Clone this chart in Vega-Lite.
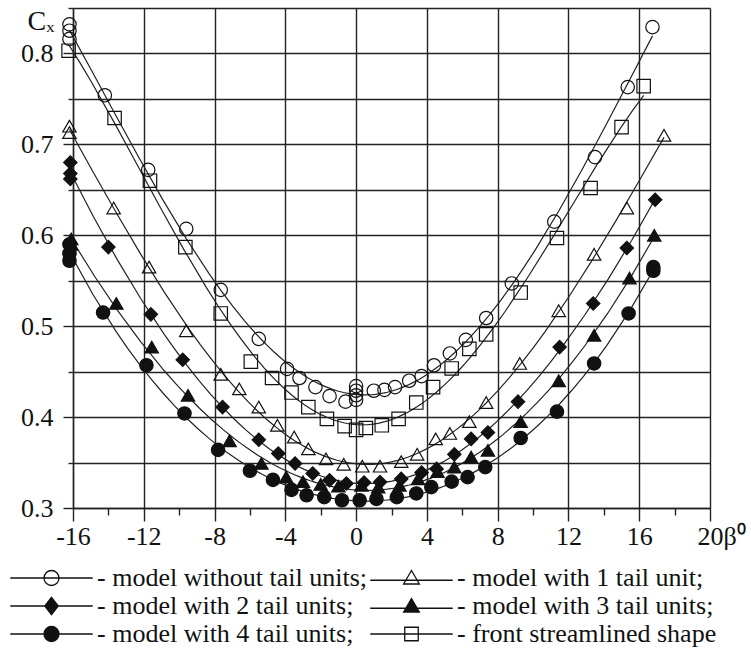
{
  "$schema": "https://vega.github.io/schema/vega-lite/v6.json",
  "width": 637,
  "height": 500,
  "autosize": "none",
  "padding": {"left": 73, "top": 8, "right": 41, "bottom": 143},
  "background": "white",
  "config": {"view": {"stroke": null}, "font": "Liberation Serif, Times New Roman, Tinos, serif"},
  "data": {"values": [
    {"s": "model without tail units", "b": -16.2, "c": 0.832},
    {"s": "model without tail units", "b": -16.2, "c": 0.825},
    {"s": "model without tail units", "b": -16.2, "c": 0.816},
    {"s": "model without tail units", "b": -14.2, "c": 0.754},
    {"s": "model without tail units", "b": -11.75, "c": 0.672},
    {"s": "model without tail units", "b": -9.6, "c": 0.607},
    {"s": "model without tail units", "b": -7.65, "c": 0.54},
    {"s": "model without tail units", "b": -5.5, "c": 0.486},
    {"s": "model without tail units", "b": -3.9, "c": 0.453},
    {"s": "model without tail units", "b": -3.2, "c": 0.443},
    {"s": "model without tail units", "b": -2.3, "c": 0.433},
    {"s": "model without tail units", "b": -1.5, "c": 0.423},
    {"s": "model without tail units", "b": -0.6, "c": 0.417},
    {"s": "model without tail units", "b": 0, "c": 0.434},
    {"s": "model without tail units", "b": 0, "c": 0.429},
    {"s": "model without tail units", "b": 0, "c": 0.424},
    {"s": "model without tail units", "b": 0, "c": 0.419},
    {"s": "model without tail units", "b": 1.0, "c": 0.429},
    {"s": "model without tail units", "b": 1.6, "c": 0.43},
    {"s": "model without tail units", "b": 2.2, "c": 0.433},
    {"s": "model without tail units", "b": 3.0, "c": 0.44},
    {"s": "model without tail units", "b": 3.7, "c": 0.445},
    {"s": "model without tail units", "b": 4.4, "c": 0.457},
    {"s": "model without tail units", "b": 5.3, "c": 0.47},
    {"s": "model without tail units", "b": 6.2, "c": 0.485},
    {"s": "model without tail units", "b": 7.35, "c": 0.509},
    {"s": "model without tail units", "b": 8.8, "c": 0.547},
    {"s": "model without tail units", "b": 11.2, "c": 0.615},
    {"s": "model without tail units", "b": 13.5, "c": 0.686},
    {"s": "model without tail units", "b": 15.35, "c": 0.763},
    {"s": "model without tail units", "b": 16.75, "c": 0.829},

    {"s": "model with 1 tail unit", "b": -16.2, "c": 0.72},
    {"s": "model with 1 tail unit", "b": -16.2, "c": 0.713},
    {"s": "model with 1 tail unit", "b": -13.7, "c": 0.63},
    {"s": "model with 1 tail unit", "b": -11.7, "c": 0.565},
    {"s": "model with 1 tail unit", "b": -9.6, "c": 0.495},
    {"s": "model with 1 tail unit", "b": -7.65, "c": 0.447},
    {"s": "model with 1 tail unit", "b": -6.6, "c": 0.431},
    {"s": "model with 1 tail unit", "b": -5.5, "c": 0.411},
    {"s": "model with 1 tail unit", "b": -4.45, "c": 0.391},
    {"s": "model with 1 tail unit", "b": -3.5, "c": 0.378},
    {"s": "model with 1 tail unit", "b": -2.7, "c": 0.365},
    {"s": "model with 1 tail unit", "b": -1.7, "c": 0.354},
    {"s": "model with 1 tail unit", "b": -0.7, "c": 0.348},
    {"s": "model with 1 tail unit", "b": 0.35, "c": 0.346},
    {"s": "model with 1 tail unit", "b": 1.35, "c": 0.346},
    {"s": "model with 1 tail unit", "b": 2.55, "c": 0.351},
    {"s": "model with 1 tail unit", "b": 3.45, "c": 0.359},
    {"s": "model with 1 tail unit", "b": 4.5, "c": 0.376},
    {"s": "model with 1 tail unit", "b": 5.3, "c": 0.382},
    {"s": "model with 1 tail unit", "b": 6.4, "c": 0.395},
    {"s": "model with 1 tail unit", "b": 7.35, "c": 0.416},
    {"s": "model with 1 tail unit", "b": 9.25, "c": 0.459},
    {"s": "model with 1 tail unit", "b": 11.45, "c": 0.517},
    {"s": "model with 1 tail unit", "b": 13.45, "c": 0.579},
    {"s": "model with 1 tail unit", "b": 15.3, "c": 0.63},
    {"s": "model with 1 tail unit", "b": 17.4, "c": 0.71},

    {"s": "model with 2 tail units", "b": -16.15, "c": 0.68},
    {"s": "model with 2 tail units", "b": -16.15, "c": 0.668},
    {"s": "model with 2 tail units", "b": -16.15, "c": 0.662},
    {"s": "model with 2 tail units", "b": -14.0, "c": 0.587},
    {"s": "model with 2 tail units", "b": -11.6, "c": 0.513},
    {"s": "model with 2 tail units", "b": -9.8, "c": 0.463},
    {"s": "model with 2 tail units", "b": -7.55, "c": 0.411},
    {"s": "model with 2 tail units", "b": -5.5, "c": 0.375},
    {"s": "model with 2 tail units", "b": -4.4, "c": 0.36},
    {"s": "model with 2 tail units", "b": -3.45, "c": 0.349},
    {"s": "model with 2 tail units", "b": -2.45, "c": 0.338},
    {"s": "model with 2 tail units", "b": -1.5, "c": 0.3305},
    {"s": "model with 2 tail units", "b": -0.55, "c": 0.327},
    {"s": "model with 2 tail units", "b": 0.45, "c": 0.328},
    {"s": "model with 2 tail units", "b": 1.35, "c": 0.3285},
    {"s": "model with 2 tail units", "b": 2.55, "c": 0.332},
    {"s": "model with 2 tail units", "b": 3.7, "c": 0.339},
    {"s": "model with 2 tail units", "b": 4.55, "c": 0.343},
    {"s": "model with 2 tail units", "b": 5.55, "c": 0.359},
    {"s": "model with 2 tail units", "b": 6.5, "c": 0.376},
    {"s": "model with 2 tail units", "b": 7.45, "c": 0.383},
    {"s": "model with 2 tail units", "b": 9.15, "c": 0.417},
    {"s": "model with 2 tail units", "b": 11.5, "c": 0.477},
    {"s": "model with 2 tail units", "b": 13.4, "c": 0.525},
    {"s": "model with 2 tail units", "b": 15.3, "c": 0.586},
    {"s": "model with 2 tail units", "b": 16.9, "c": 0.639},

    {"s": "model with 3 tail units", "b": -16.1, "c": 0.596},
    {"s": "model with 3 tail units", "b": -16.1, "c": 0.59},
    {"s": "model with 3 tail units", "b": -13.55, "c": 0.525},
    {"s": "model with 3 tail units", "b": -11.55, "c": 0.477},
    {"s": "model with 3 tail units", "b": -9.5, "c": 0.424},
    {"s": "model with 3 tail units", "b": -7.15, "c": 0.374},
    {"s": "model with 3 tail units", "b": -5.35, "c": 0.349},
    {"s": "model with 3 tail units", "b": -3.95, "c": 0.334},
    {"s": "model with 3 tail units", "b": -3.0, "c": 0.329},
    {"s": "model with 3 tail units", "b": -2.0, "c": 0.326},
    {"s": "model with 3 tail units", "b": -1.0, "c": 0.324},
    {"s": "model with 3 tail units", "b": 0.3, "c": 0.325},
    {"s": "model with 3 tail units", "b": 1.25, "c": 0.323},
    {"s": "model with 3 tail units", "b": 2.45, "c": 0.325},
    {"s": "model with 3 tail units", "b": 3.5, "c": 0.332},
    {"s": "model with 3 tail units", "b": 4.6, "c": 0.34},
    {"s": "model with 3 tail units", "b": 5.55, "c": 0.345},
    {"s": "model with 3 tail units", "b": 6.5, "c": 0.356},
    {"s": "model with 3 tail units", "b": 7.45, "c": 0.3635},
    {"s": "model with 3 tail units", "b": 9.3, "c": 0.395},
    {"s": "model with 3 tail units", "b": 11.45, "c": 0.44},
    {"s": "model with 3 tail units", "b": 13.45, "c": 0.49},
    {"s": "model with 3 tail units", "b": 15.45, "c": 0.553},
    {"s": "model with 3 tail units", "b": 16.85, "c": 0.6},

    {"s": "model with 4 tail units", "b": -16.2, "c": 0.59},
    {"s": "model with 4 tail units", "b": -16.2, "c": 0.58},
    {"s": "model with 4 tail units", "b": -16.2, "c": 0.572},
    {"s": "model with 4 tail units", "b": -14.3, "c": 0.515},
    {"s": "model with 4 tail units", "b": -11.85, "c": 0.457},
    {"s": "model with 4 tail units", "b": -9.7, "c": 0.404},
    {"s": "model with 4 tail units", "b": -7.8, "c": 0.364},
    {"s": "model with 4 tail units", "b": -6.0, "c": 0.341},
    {"s": "model with 4 tail units", "b": -4.7, "c": 0.331},
    {"s": "model with 4 tail units", "b": -3.65, "c": 0.32},
    {"s": "model with 4 tail units", "b": -2.8, "c": 0.314},
    {"s": "model with 4 tail units", "b": -1.8, "c": 0.312},
    {"s": "model with 4 tail units", "b": -0.8, "c": 0.3085},
    {"s": "model with 4 tail units", "b": 0.2, "c": 0.3085},
    {"s": "model with 4 tail units", "b": 1.15, "c": 0.31},
    {"s": "model with 4 tail units", "b": 2.3, "c": 0.312},
    {"s": "model with 4 tail units", "b": 3.4, "c": 0.316},
    {"s": "model with 4 tail units", "b": 4.25, "c": 0.323},
    {"s": "model with 4 tail units", "b": 5.4, "c": 0.329},
    {"s": "model with 4 tail units", "b": 6.3, "c": 0.334},
    {"s": "model with 4 tail units", "b": 7.3, "c": 0.345},
    {"s": "model with 4 tail units", "b": 9.3, "c": 0.377},
    {"s": "model with 4 tail units", "b": 11.35, "c": 0.406},
    {"s": "model with 4 tail units", "b": 13.45, "c": 0.459},
    {"s": "model with 4 tail units", "b": 15.4, "c": 0.514},
    {"s": "model with 4 tail units", "b": 16.8, "c": 0.565},
    {"s": "model with 4 tail units", "b": 16.8, "c": 0.561},

    {"s": "front streamlined shape", "b": -16.25, "c": 0.803},
    {"s": "front streamlined shape", "b": -13.65, "c": 0.729},
    {"s": "front streamlined shape", "b": -11.65, "c": 0.66},
    {"s": "front streamlined shape", "b": -9.65, "c": 0.587},
    {"s": "front streamlined shape", "b": -7.65, "c": 0.514},
    {"s": "front streamlined shape", "b": -5.95, "c": 0.461},
    {"s": "front streamlined shape", "b": -4.75, "c": 0.443},
    {"s": "front streamlined shape", "b": -3.65, "c": 0.427},
    {"s": "front streamlined shape", "b": -2.7, "c": 0.411},
    {"s": "front streamlined shape", "b": -1.65, "c": 0.398},
    {"s": "front streamlined shape", "b": -0.65, "c": 0.39},
    {"s": "front streamlined shape", "b": 0, "c": 0.386},
    {"s": "front streamlined shape", "b": 0.55, "c": 0.388},
    {"s": "front streamlined shape", "b": 1.45, "c": 0.391},
    {"s": "front streamlined shape", "b": 2.4, "c": 0.398},
    {"s": "front streamlined shape", "b": 3.4, "c": 0.416},
    {"s": "front streamlined shape", "b": 4.35, "c": 0.433},
    {"s": "front streamlined shape", "b": 5.4, "c": 0.4535},
    {"s": "front streamlined shape", "b": 6.4, "c": 0.475},
    {"s": "front streamlined shape", "b": 7.35, "c": 0.491},
    {"s": "front streamlined shape", "b": 9.3, "c": 0.537},
    {"s": "front streamlined shape", "b": 11.35, "c": 0.597},
    {"s": "front streamlined shape", "b": 13.25, "c": 0.652},
    {"s": "front streamlined shape", "b": 15.0, "c": 0.719},
    {"s": "front streamlined shape", "b": 16.25, "c": 0.764}
  ]},
  "encoding": {
    "x": {
      "field": "b", "type": "quantitative",
      "scale": {"domain": [-16, 20], "nice": false, "zero": false},
      "axis": {
        "values": [-16, -14, -12, -10, -8, -6, -4, -2, 0, 2, 4, 6, 8, 10, 12, 14, 16, 18, 20],
        "labelExpr": "datum.value % 4 == 0 ? '' + datum.value : ''",
        "labelFont": "Liberation Serif, Times New Roman, Tinos, serif", "labelFontSize": 26, "labelColor": "#111", "labelPadding": 2,
        "labelFlush": false, "labelOverlap": false,
        "tickSize": {"condition": {"test": "datum.value % 4 == 0", "value": 13}, "value": 7},
        "tickColor": "#222", "tickWidth": 1.4,
        "grid": true, "gridColor": "#222", "gridWidth": 1.4,
        "gridOpacity": {"condition": {"test": "datum.value % 4 == 0", "value": 1}, "value": 0},
        "domainColor": "#222", "domainWidth": 1.4,
        "title": "β⁰", "titleFont": "Liberation Serif, Times New Roman, Tinos, serif", "titleFontSize": 26, "titleFontWeight": "normal", "titleColor": "#111",
        "titleX": 650, "titleY": 15, "titleAlign": "left", "titleBaseline": "top", "titleAnchor": "start"
      }
    },
    "y": {
      "field": "c", "type": "quantitative",
      "scale": {"domain": [0.3, 0.85], "nice": false, "zero": false},
      "axis": {
        "values": [0.3, 0.35, 0.4, 0.45, 0.5, 0.55, 0.6, 0.65, 0.7, 0.75, 0.8, 0.85],
        "labelExpr": "abs(datum.value * 10 - round(datum.value * 10)) < 0.001 ? format(datum.value, '.1f') : ''",
        "labelFont": "Liberation Serif, Times New Roman, Tinos, serif", "labelFontSize": 26, "labelColor": "#111", "labelPadding": 10,
        "labelFlush": false, "labelOverlap": false,
        "tickSize": {"condition": {"test": "abs(datum.value * 10 - round(datum.value * 10)) < 0.001", "value": 10}, "value": 5},
        "tickColor": "#222", "tickWidth": 1.4,
        "grid": true, "gridColor": "#222", "gridWidth": 1.4,
        "domainColor": "#222", "domainWidth": 1.4,
        "title": "Cₓ", "titleFont": "Liberation Serif, Times New Roman, Tinos, serif", "titleFontSize": 28, "titleFontWeight": "normal", "titleColor": "#111",
        "titleAngle": 0, "titleX": -46, "titleY": 21, "titleAlign": "left", "titleBaseline": "alphabetic", "titleAnchor": "start"
      }
    }
  },
  "layer": [
    {
      "transform": [{"regression": "c", "on": "b", "groupby": ["s"], "method": "poly", "order": 4}],
      "mark": {"type": "line", "color": "#222", "strokeWidth": 1.2},
      "encoding": {"detail": {"field": "s", "type": "nominal"}}
    },
    {
      "mark": {"type": "point", "filled": true, "stroke": "#111", "strokeWidth": 1.2, "size": 180, "opacity": 1},
      "encoding": {
        "shape": {"field": "s", "type": "nominal", "legend": null,
          "scale": {"domain": ["model without tail units", "model with 1 tail unit", "model with 2 tail units", "model with 3 tail units", "model with 4 tail units", "front streamlined shape"],
                    "range": ["circle", "triangle-up", "diamond", "triangle-up", "circle", "square"]}},
        "fill": {"field": "s", "type": "nominal", "legend": null,
          "scale": {"domain": ["model without tail units", "model with 1 tail unit", "model with 2 tail units", "model with 3 tail units", "model with 4 tail units", "front streamlined shape"],
                    "range": ["transparent", "transparent", "#111", "#111", "#111", "transparent"]}}
      }
    },
    {
      "transform": [{"filter": "false"}],
      "mark": {"type": "point", "filled": true, "strokeWidth": 1.3, "opacity": 1},
      "encoding": {
        "shape": {"field": "s", "type": "nominal",
          "scale": {"domain": ["model without tail units", "model with 2 tail units", "model with 4 tail units", "model with 1 tail unit", "model with 3 tail units", "front streamlined shape"],
                    "range": [
                      "M-5.5,0H5.5M-1,0A1,1,0,1,0,1,0A1,1,0,1,0,-1,0Z",
                      "M-5.5,0H5.5M0,-1.15L0.9,0L0,1.15L-0.9,0Z",
                      "M-5.5,0H5.5M-1,0A1,1,0,1,0,1,0A1,1,0,1,0,-1,0Z",
                      "M-5.5,0.3H5.5M0,-1L1.05,0.8L-1.05,0.8Z",
                      "M-5.5,0.3H5.5M0,-1L1.05,0.8L-1.05,0.8Z",
                      "M-5.5,0H5.5M-0.9,-0.9H0.9V0.9H-0.9Z"
                    ]},
          "legend": {"orient": "none", "legendX": -34.5, "legendY": 557, "columns": 2, "title": null, "padding": 0,
            "symbolSize": 225, "symbolStrokeWidth": 1.3,
            "labelFont": "Liberation Serif, Times New Roman, Tinos, serif", "labelFontSize": 26, "labelColor": "#111", "labelOffset": 32.5, "labelLimit": 400,
            "rowPadding": 2, "columnPadding": 0,
            "labelExpr": "datum.label == 'front streamlined shape' ? '- ' + datum.label : '- ' + datum.label + ';'"}},
        "fill": {"field": "s", "type": "nominal",
          "scale": {"domain": ["model without tail units", "model with 2 tail units", "model with 4 tail units", "model with 1 tail unit", "model with 3 tail units", "front streamlined shape"],
                    "range": ["white", "#111", "#111", "white", "#111", "white"]},
          "legend": {"orient": "none", "legendX": -34.5, "legendY": 557, "columns": 2, "title": null, "padding": 0,
            "symbolSize": 225, "symbolStrokeWidth": 1.3,
            "labelFont": "Liberation Serif, Times New Roman, Tinos, serif", "labelFontSize": 26, "labelColor": "#111", "labelOffset": 32.5, "labelLimit": 400,
            "rowPadding": 2, "columnPadding": 0,
            "labelExpr": "datum.label == 'front streamlined shape' ? '- ' + datum.label : '- ' + datum.label + ';'"}},
        "stroke": {"field": "s", "type": "nominal",
          "scale": {"domain": ["model without tail units", "model with 2 tail units", "model with 4 tail units", "model with 1 tail unit", "model with 3 tail units", "front streamlined shape"],
                    "range": ["#111", "#111", "#111", "#111", "#111", "#111"]},
          "legend": {"orient": "none", "legendX": -34.5, "legendY": 557, "columns": 2, "title": null, "padding": 0,
            "symbolSize": 225, "symbolStrokeWidth": 1.3,
            "labelFont": "Liberation Serif, Times New Roman, Tinos, serif", "labelFontSize": 26, "labelColor": "#111", "labelOffset": 32.5, "labelLimit": 400,
            "rowPadding": 2, "columnPadding": 0,
            "labelExpr": "datum.label == 'front streamlined shape' ? '- ' + datum.label : '- ' + datum.label + ';'"}}
      }
    }
  ],
  "resolve": {"scale": {"shape": "independent", "fill": "independent", "stroke": "independent"}, "legend": {"shape": "independent", "fill": "independent", "stroke": "independent"}}
}
